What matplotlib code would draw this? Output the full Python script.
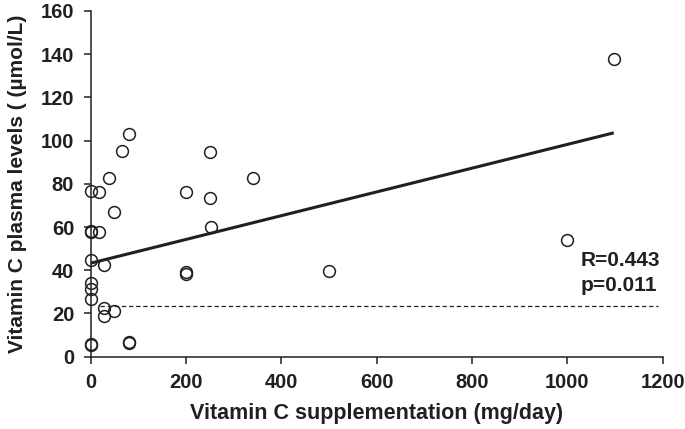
import numpy as np
import matplotlib.pyplot as plt

# --- data ---
dose = [0, 0, 0, 0, 0, 0, 0, 0, 0,
        18, 18, 28, 28, 28, 39, 49, 49, 65, 80, 80, 80,
        200, 200, 200, 250, 250, 253, 340, 500, 1000, 1097]
plasma = [76.5, 58, 57.5, 44.7, 34, 31.5, 26.5, 6, 5.5,
          76.4, 57.8, 42.3, 22.5, 19, 82.6, 67, 21, 95.3, 103.3, 7, 6.5,
          76, 39, 38.3, 94.7, 73.6, 60, 82.6, 39.5, 54, 137.7]

fit_x = [0, 1097]
fit_y = [43.3, 103.6]

ref_x = [20, 1190]
ref_y = [23.6, 23.6]

xticks = [0, 200, 400, 600, 800, 1000, 1200]
yticks = [0, 20, 40, 60, 80, 100, 120, 140, 160]

ink = '#231f20'
plt.rcParams['font.family'] = ['Liberation Sans', 'DejaVu Sans']
plt.rcParams['font.weight'] = 'bold'

fig = plt.figure(figsize=(6.85, 4.29), dpi=100)
ax = fig.add_axes([0.1326, 0.1685, 0.835, 0.8059])

ax.plot(ref_x, ref_y, color=ink, lw=0.9, dashes=(3.5, 2.2), zorder=1)
ax.plot(fit_x, fit_y, color=ink, lw=2.2, solid_capstyle='butt', zorder=2)
ax.plot(dose, plasma, 'o', ms=8.5, mfc='none', mec=ink, mew=1.1,
        clip_on=False, zorder=3)

ax.text(1028, 44.5, 'R=0.443', fontsize=15, fontweight='bold', color=ink,
        va='center', ha='left')
ax.text(1028, 33, 'p=0.011', fontsize=15, fontweight='bold', color=ink,
        va='center', ha='left')

ax.set_xlim(0, 1200)
ax.set_ylim(0, 160)
ax.set_xticks(xticks)
ax.set_yticks(yticks)
for s in ['top', 'right']:
    ax.spines[s].set_visible(False)
for s in ['left', 'bottom']:
    ax.spines[s].set_color(ink)
    ax.spines[s].set_linewidth(1.1)
ax.tick_params(direction='out', length=5, width=1.1, color=ink,
               labelsize=14.5, labelcolor=ink, pad=7)
for lab in ax.get_xticklabels() + ax.get_yticklabels():
    lab.set_fontweight('bold')

ax.set_xlabel('Vitamin C supplementation (mg/day)', fontsize=15.5,
              fontweight='bold', color=ink, labelpad=8)
ax.set_ylabel('Vitamin C plasma levels ( (µmol/L)', fontsize=15,
              fontweight='bold', color=ink, labelpad=10)

fig.savefig('out.png', dpi=100)
